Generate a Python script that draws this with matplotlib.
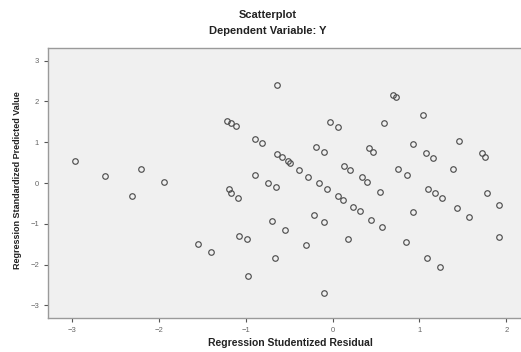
import numpy as np
import matplotlib
matplotlib.use("Agg")
import matplotlib.pyplot as plt

plt.rcParams['font.family'] = ['Liberation Sans', 'DejaVu Sans']

# values (studentized residual, standardized predicted)
resid = [-2.97, -2.62, -2.21, -1.94, -2.31, -0.64, -1.22, -1.17, -1.11, -0.90,
         -0.81, -0.64, -0.58, -0.52, -0.49, -0.39, -0.28, -0.16, -0.06, 0.06,
         0.12, 0.24, 0.31, 0.44, 0.57, -0.89, -0.74, -0.65, -1.20, -1.17,
         -1.09, 0.70, 0.73, -0.03, 0.06, 0.59, 1.04, -0.19, -0.10, 0.42,
         0.46, 0.13, 0.20, 0.34, 0.39, 0.55, 0.93, 1.07, 1.16, 1.46,
         0.75, 0.86, 1.39, 1.10, 1.18, 1.26, 1.43, 1.57, 0.92, 1.72,
         1.76, 1.78, 1.92, 1.92, -0.70, -0.55, -1.08, -0.99, -0.67, -0.97,
         -1.55, -1.40, -0.22, -0.10, -0.31, 0.18, 0.85, 1.09, 1.24, -0.10]
pred = [0.54, 0.17, 0.34, 0.02, -0.32, 2.40, 1.52, 1.47, 1.40, 1.08,
        0.98, 0.71, 0.64, 0.54, 0.49, 0.32, 0.15, 0.00, -0.15, -0.32,
        -0.42, -0.59, -0.69, -0.91, -1.08, 0.20, 0.00, -0.10, -0.15, -0.25,
        -0.37, 2.16, 2.11, 1.50, 1.37, 1.47, 1.67, 0.88, 0.76, 0.86,
        0.76, 0.42, 0.32, 0.15, 0.02, -0.22, 0.96, 0.74, 0.61, 1.03,
        0.34, 0.20, 0.34, -0.15, -0.25, -0.37, -0.61, -0.83, -0.71, 0.74,
        0.64, -0.25, -0.54, -1.32, -0.93, -1.15, -1.30, -1.37, -1.84, -2.28,
        -1.50, -1.69, -0.78, -0.96, -1.52, -1.37, -1.45, -1.84, -2.06, -2.70]
xticks = [-3, -2, -1, 0, 1, 2]
yticks = [-3, -2, -1, 0, 1, 2, 3]

fig = plt.figure(figsize=(5.21, 3.52), dpi=100)
ax = fig.add_axes([48 / 521, 34 / 352, 473 / 521, 270 / 352])
ax.set_facecolor('#f0f0f0')

ax.plot(resid, pred, 'o', markersize=4.0, markerfacecolor='none',
        markeredgecolor='#505050', markeredgewidth=0.85)

ax.set_xlim(-3.28, 2.17)
ax.set_ylim(-3.31, 3.31)
ax.set_xticks(xticks)
ax.set_yticks(yticks)
ax.tick_params(labelsize=5.5, labelcolor='#666666', color='#555555',
               length=3, width=0.8, direction='out')
for s in ax.spines.values():
    s.set_color('#9a9a9a')
    s.set_linewidth(1.0)
ax.spines['right'].set_visible(False)  # reference is cut at the right edge

fig.text(268 / 521, 1 - 15 / 352, 'Scatterplot', ha='center', va='center',
         fontsize=8, fontweight='bold', color='#222222')
fig.text(268 / 521, 1 - 31 / 352, 'Dependent Variable: Y', ha='center', va='center',
         fontsize=8, fontweight='bold', color='#222222')
fig.text(290 / 521, 1 - 343 / 352, 'Regression Studentized Residual', ha='center',
         va='center', fontsize=7.5, fontweight='bold', color='#222222')
fig.text(18 / 521, 1 - 180 / 352, 'Regression Standardized Predicted Value',
         ha='center', va='center', rotation=90, fontsize=6.5,
         fontweight='bold', color='#222222')

fig.savefig('out.png', dpi=100)
